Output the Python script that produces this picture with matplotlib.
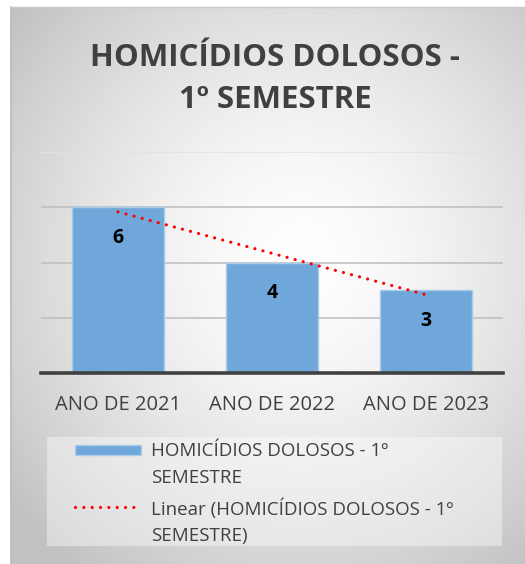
import numpy as np
import matplotlib
matplotlib.use("Agg")
import matplotlib.pyplot as plt
from matplotlib.patches import Rectangle
from matplotlib.lines import Line2D

categories = ["ANO DE 2021", "ANO DE 2022", "ANO DE 2023"]
values = [6, 4, 3]
title = "HOMICÍDIOS DOLOSOS -\n1º SEMESTRE"
series_label = "HOMICÍDIOS DOLOSOS - 1º\nSEMESTRE"
trend_label = "Linear (HOMICÍDIOS DOLOSOS - 1º\nSEMESTRE)"

W, H = 525, 564
plt.rcParams["font.family"] = ["Open Sans", "DejaVu Sans"]
TEXT = "#404040"

fig = plt.figure(figsize=(W / 100, H / 100), dpi=100)
fig.patch.set_facecolor("white")


def px(x, y):
    # pixel coords (from top-left) to figure fraction
    return x / W, 1 - y / H


# background panel with radial gradient
bg = fig.add_axes([11 / W, 0, 1 - 11 / W, 1 - 7 / H])
yy, xx = np.mgrid[7:H, 11:W]
r = np.sqrt((xx - 300) ** 2 + ((yy - 260) / 1.05) ** 2)
shade = np.clip(1.0 - 0.23 * (r / 360) ** 1.5, 0.76, 1.0)
bg.imshow(np.dstack([shade] * 3), aspect="auto", extent=[0, 1, 0, 1], origin="upper")
bg.set_axis_off()
fig.add_artist(Line2D([11 / W, 11 / W], [0, 1 - 7 / H], color="#b8b8b8", lw=1.2))
fig.add_artist(Line2D([11 / W, 1], [1 - 7 / H, 1 - 7 / H], color="#c8c8c8", lw=1.0))

# title
fig.text(275 / W, 1 - 79 / H, title, ha="center", va="center", fontsize=22.5,
         fontweight="bold", color=TEXT, linespacing=1.55)

# main axes
left, right, top, bottom = 41, 503, 152, 373
ax = fig.add_axes([left / W, 1 - bottom / H, (right - left) / W, (bottom - top) / H])
ax.patch.set_alpha(0)
x = np.arange(len(categories))
bars = ax.bar(x, values, width=0.6, color="#6fa7da", edgecolor="#a9cbea", linewidth=1, zorder=2)
ax.set_xlim(-0.5, len(categories) - 0.5)
ax.set_ylim(0, 8)
ax.set_yticks([2, 4, 6, 8])
ax.yaxis.grid(True, color="#bdbdbd", linewidth=1.1, zorder=0)
ax.get_ygridlines()[-1].set_color("#e2e2e2")
ax.tick_params(axis="y", left=False, labelleft=False)
ax.tick_params(axis="x", bottom=False, labelsize=14.5, labelcolor=TEXT, pad=12)
ax.set_xticks(x)
ax.set_xticklabels(categories)
for s in ["top", "right", "left"]:
    ax.spines[s].set_visible(False)
ax.spines["bottom"].set_color("#404040")
ax.spines["bottom"].set_linewidth(2.6)
ax.spines["bottom"].set_zorder(3)

for b, v in zip(bars, values):
    ax.annotate(str(v), (b.get_x() + b.get_width() / 2, v), xytext=(0, -22),
                textcoords="offset points", ha="center", va="center",
                fontsize=14, fontweight="bold", color="black", zorder=4)

# linear trendline
slope, intercept = np.polyfit(x, values, 1)
ax.plot(x, slope * x + intercept, color="red", linewidth=2.3,
        linestyle=(0, (0.01, 2.6)), dash_capstyle="round", zorder=3)

# legend panel
lx0, ly0, lx1, ly1 = 47, 437, 502, 546
fig.add_artist(Rectangle(px(lx0, ly1), (lx1 - lx0) / W, (ly1 - ly0) / H,
                         facecolor="white", alpha=0.4, edgecolor="none"))
fig.add_artist(Rectangle(px(75, 455), 66 / W, 10 / H, facecolor="#6fa7da",
                         edgecolor="#a9cbea", linewidth=1))
fig.add_artist(Line2D([75 / W, 141 / W], [1 - 507 / H] * 2, color="red", linewidth=2.3,
                      linestyle=(0, (0.01, 2.6)), dash_capstyle="round"))
fig.text(151 / W, 1 - 442 / H, series_label, ha="left", va="top", fontsize=13.5,
         color=TEXT, linespacing=1.62)
fig.text(151 / W, 1 - 499 / H, trend_label, ha="left", va="top", fontsize=13.5,
         color=TEXT, linespacing=1.55)

fig.savefig("out.png", dpi=100)
